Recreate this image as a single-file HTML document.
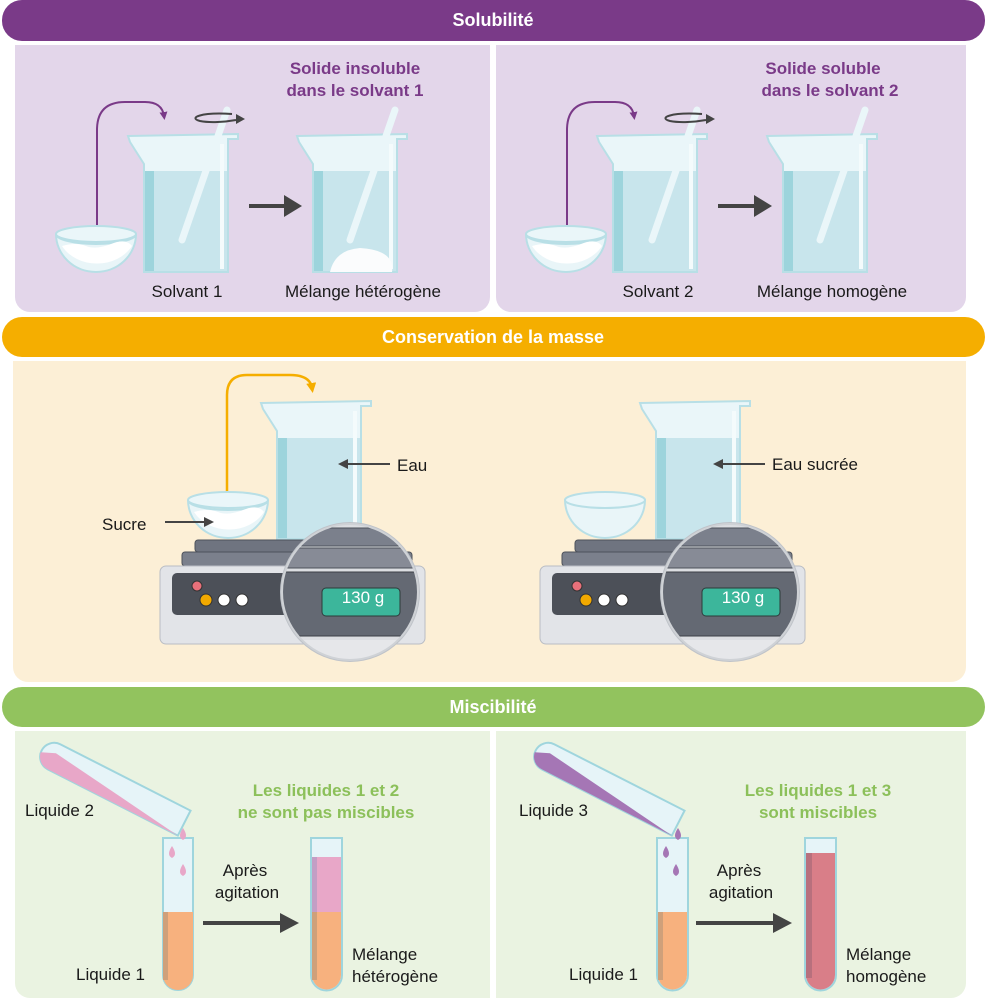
<!DOCTYPE html>
<html><head><meta charset="utf-8"><style>
html,body{margin:0;padding:0;background:#fff}
svg{display:block}
text{font-family:"Liberation Sans",sans-serif}
.t{font-size:17px;fill:#1a1a1a}
.h{font-size:18px;font-weight:bold;fill:#fff}
.b{font-size:17px;font-weight:bold}
</style></head><body>
<svg width="987" height="1000" viewBox="0 0 987 1000" xmlns="http://www.w3.org/2000/svg">
<defs>
<g id="beaker">
  <path d="M0,2 L110,0 L110,5 L100,5 L100,138 L16,138 L16,30 L2,8 Z" fill="#eaf6f9" stroke="#b8dfe6" stroke-width="2"/>
  <rect x="17" y="37" width="82" height="100" fill="#c8e5ec"/>
  <rect x="17" y="37" width="9" height="100" fill="#9dd4dc"/>
  <rect x="92" y="10" width="4" height="125" fill="#f4fbfc"/>
</g>
<g id="bowl">
  <path d="M0,0 A40,10 0 0 0 80,0 A40,38 0 0 1 0,0 Z" fill="#e9f5f8" stroke="#b8dfe6" stroke-width="2"/>
  <path d="M6,12 Q20,8 30,12 T55,10 T76,12 A40,34 0 0 1 6,12 Z" fill="#fff"/>
  <ellipse cx="40" cy="0" rx="40" ry="8" fill="#eaf6f9" stroke="#b8dfe6" stroke-width="2"/>
</g>
<g id="bowlE">
  <path d="M0,0 A40,38 0 0 0 80,0 Z" fill="#e9f5f8" stroke="#b8dfe6" stroke-width="2"/>
  <ellipse cx="40" cy="0" rx="40" ry="8" fill="#eaf6f9" stroke="#b8dfe6" stroke-width="2"/>
</g>
<g id="scale">
  <rect x="35" y="0" width="195" height="12" rx="3" fill="#6f7480" stroke="#4d525b"/>
  <rect x="22" y="12" width="230" height="14" rx="3" fill="#7b808c" stroke="#4d525b"/>
  <rect x="0" y="26" width="265" height="78" rx="6" fill="#e2e4e8" stroke="#b9bdc4"/>
  <rect x="12" y="33" width="240" height="42" rx="5" fill="#4c5058"/>
  <circle cx="37" cy="46" r="5" fill="#e8707a" stroke="#333"/>
  <circle cx="46" cy="60" r="6" fill="#f2a900" stroke="#333"/>
  <circle cx="64" cy="60" r="6" fill="#fff" stroke="#333"/>
  <circle cx="82" cy="60" r="6" fill="#fff" stroke="#333"/>
  <circle cx="190" cy="52" r="70" fill="#bfc3c9"/>
  <clipPath id="mag"><circle cx="190" cy="52" r="68"/></clipPath>
  <g clip-path="url(#mag)">
    <rect x="100" y="-20" width="200" height="160" fill="#dcdee2"/>
    <rect x="100" y="-12" width="200" height="18" rx="3" fill="#7b808c" stroke="#4d525b"/>
    <rect x="100" y="8" width="200" height="20" rx="3" fill="#878b96" stroke="#4d525b"/>
    <rect x="100" y="32" width="160" height="64" rx="6" fill="#646973" stroke="#3c4047"/>
    <rect x="100" y="100" width="200" height="30" fill="#e6e7ea"/>
  </g>
  <circle cx="190" cy="52" r="68" fill="none" stroke="#cfd2d6" stroke-width="2"/>
  <rect x="162" y="48" width="78" height="28" rx="4" fill="#3cb69b" stroke="#2d3a3a"/>
</g>
<marker id="ap" markerWidth="8" markerHeight="8" refX="4" refY="4" orient="auto" markerUnits="userSpaceOnUse"><path d="M0,0 L8,4 L0,8Z" fill="#7a3a88"/></marker>
<marker id="ao" markerWidth="10" markerHeight="10" refX="5" refY="5" orient="auto" markerUnits="userSpaceOnUse"><path d="M0,0 L10,5 L0,10Z" fill="#f5ae00"/></marker>
</defs>

<!-- Solubilité -->
<rect x="2" y="0" width="983" height="41" rx="20" fill="#7a3a88"/>
<text x="493" y="26" text-anchor="middle" class="h">Solubilité</text>
<path d="M15,45 H490 V297 a15,15 0 0 1 -15,15 H30 a15,15 0 0 1 -15,-15Z" fill="#e3d6ea"/>
<path d="M496,45 H966 V297 a15,15 0 0 1 -15,15 H511 a15,15 0 0 1 -15,-15Z" fill="#e3d6ea"/>

<g>
<text x="355" y="74" text-anchor="middle" class="b" fill="#7a3a88">Solide insoluble</text>
<text x="355" y="96" text-anchor="middle" class="b" fill="#7a3a88">dans le solvant 1</text>
<path d="M97,226 V130 Q97,102 125,102 H145 Q162,102 164,116" fill="none" stroke="#7a3a88" stroke-width="2" marker-end="url(#ap)"/>
<use href="#bowl" x="56" y="234"/>
<use href="#beaker" x="128" y="134"/>
<line x1="182" y1="240" x2="227" y2="110" stroke="#eaf6f9" stroke-width="7" stroke-linecap="round"/>
<path d="M232,114 C200,112 188,118 200,121 C210,123 225,122 236,120" fill="none" stroke="#444" stroke-width="2"/>
<path d="M236,114 l9,5 -9,5z" fill="#444"/>
<use href="#beaker" x="297" y="134"/>
<path d="M330,272 Q335,250 360,248 Q395,250 392,272Z" fill="#fbfcfd"/>
<line x1="350" y1="240" x2="395" y2="110" stroke="#eaf6f9" stroke-width="7" stroke-linecap="round"/>
<line x1="249" y1="206" x2="287" y2="206" stroke="#444" stroke-width="4"/>
<path d="M284,195 L302,206 L284,217Z" fill="#444"/>
<text x="187" y="297" text-anchor="middle" class="t">Solvant 1</text>
<text x="363" y="297" text-anchor="middle" class="t">Mélange hétérogène</text>
</g>

<g>
<text x="823" y="74" text-anchor="middle" class="b" fill="#7a3a88">Solide soluble</text>
<text x="830" y="96" text-anchor="middle" class="b" fill="#7a3a88">dans le solvant 2</text>
<path d="M567,226 V130 Q567,102 595,102 H615 Q632,102 634,116" fill="none" stroke="#7a3a88" stroke-width="2" marker-end="url(#ap)"/>
<use href="#bowl" x="526" y="234"/>
<use href="#beaker" x="597" y="134"/>
<line x1="652" y1="240" x2="697" y2="110" stroke="#eaf6f9" stroke-width="7" stroke-linecap="round"/>
<path d="M702,114 C670,112 658,118 670,121 C680,123 695,122 706,120" fill="none" stroke="#444" stroke-width="2"/>
<path d="M706,114 l9,5 -9,5z" fill="#444"/>
<use href="#beaker" x="767" y="134"/>
<line x1="820" y1="240" x2="865" y2="110" stroke="#eaf6f9" stroke-width="7" stroke-linecap="round"/>
<line x1="718" y1="206" x2="756" y2="206" stroke="#444" stroke-width="4"/>
<path d="M754,195 L772,206 L754,217Z" fill="#444"/>
<text x="658" y="297" text-anchor="middle" class="t">Solvant 2</text>
<text x="832" y="297" text-anchor="middle" class="t">Mélange homogène</text>
</g>

<!-- Conservation -->
<rect x="2" y="317" width="983" height="40" rx="20" fill="#f5ae00"/>
<text x="493" y="343" text-anchor="middle" class="h">Conservation de la masse</text>
<path d="M13,361 H966 V667 a15,15 0 0 1 -15,15 H28 a15,15 0 0 1 -15,-15Z" fill="#fcefd6"/>

<path d="M227,497 V395 Q227,375 247,375 H290 Q310,375 312,388" fill="none" stroke="#f5ae00" stroke-width="2.5" marker-end="url(#ao)"/>
<use href="#beaker" x="261" y="401"/>
<use href="#bowl" x="188" y="500"/>
<use href="#scale" x="160" y="540"/>
<text x="363" y="603" text-anchor="middle" font-size="17" fill="#fff">130 g</text>
<line x1="390" y1="464" x2="347" y2="464" stroke="#444" stroke-width="2"/><path d="M338,464 l10,-5 v10z" fill="#444"/>
<text x="397" y="471" class="t">Eau</text>
<text x="102" y="530" class="t">Sucre</text>
<line x1="165" y1="522" x2="205" y2="522" stroke="#444" stroke-width="2"/><path d="M214,522 l-10,-5 v10z" fill="#444"/>

<use href="#beaker" x="640" y="401"/>
<use href="#bowlE" x="565" y="500"/>
<use href="#scale" x="540" y="540"/>
<text x="743" y="603" text-anchor="middle" font-size="17" fill="#fff">130 g</text>
<line x1="765" y1="464" x2="722" y2="464" stroke="#444" stroke-width="2"/><path d="M713,464 l10,-5 v10z" fill="#444"/>
<text x="772" y="470" class="t">Eau sucrée</text>

<!-- Miscibilité -->
<rect x="2" y="687" width="983" height="40" rx="20" fill="#92c35e"/>
<text x="493" y="713" text-anchor="middle" class="h">Miscibilité</text>
<path d="M15,731 H490 V998 H30 a15,15 0 0 1 -15,-15Z" fill="#eaf3e1"/>
<path d="M496,731 H966 V983 a15,15 0 0 1 -15,15 H496Z" fill="#eaf3e1"/>

<g>
<g transform="translate(48,738) rotate(27)">
  <path d="M14,0 H160 V28 H14 A14,14 0 0 1 14,0Z" fill="#e6f4f8" stroke="#9fd5dd" stroke-width="2"/>
  <path d="M14,10 L160,28 H14 A14,14 0 0 1 0,16Z" fill="#e8a7c8"/>
</g>
<path d="M163,838 H193 V975 A15,15 0 0 1 163,975Z" fill="#e6f4f8" stroke="#9fd5dd" stroke-width="2"/>
<path d="M163,912 H193 V975 A15,15 0 0 1 163,975Z" fill="#f7b17e"/>
<rect x="163" y="912" width="5" height="68" fill="#cfa07a"/>
<path d="M183,828 q-6,9 0,12 q6,-3 0,-12z" fill="#e8a7c8"/>
<path d="M172,846 q-6,9 0,12 q6,-3 0,-12z" fill="#e8a7c8"/>
<path d="M183,864 q-6,9 0,12 q6,-3 0,-12z" fill="#e8a7c8"/>
<path d="M311,838 H342 V975 A15.5,15.5 0 0 1 311,975Z" fill="#e6f4f8" stroke="#9fd5dd" stroke-width="2"/>
<rect x="312" y="857" width="29" height="55" fill="#e8a7c8"/>
<rect x="312" y="857" width="5" height="55" fill="#c39ec5"/>
<path d="M312,912 H341 V975 A14.5,14.5 0 0 1 312,975Z" fill="#f7b17e"/>
<rect x="312" y="912" width="5" height="68" fill="#cfa07a"/>
<line x1="203" y1="923" x2="282" y2="923" stroke="#444" stroke-width="4"/>
<path d="M280,913 L299,923 L280,933Z" fill="#444"/>
<text x="245" y="876" text-anchor="middle" class="t">Après</text>
<text x="247" y="898" text-anchor="middle" class="t">agitation</text>
<text x="25" y="816" class="t">Liquide 2</text>
<text x="76" y="980" class="t">Liquide 1</text>
<text x="352" y="960" class="t">Mélange</text>
<text x="352" y="982" class="t">hétérogène</text>
<text x="326" y="796" text-anchor="middle" class="b" fill="#8cc05a">Les liquides 1 et 2</text>
<text x="326" y="818" text-anchor="middle" class="b" fill="#8cc05a">ne sont pas miscibles</text>
</g>

<g>
<g transform="translate(542,738) rotate(27)">
  <path d="M14,0 H160 V28 H14 A14,14 0 0 1 14,0Z" fill="#e6f4f8" stroke="#9fd5dd" stroke-width="2"/>
  <path d="M14,10 L160,28 H14 A14,14 0 0 1 0,16Z" fill="#a576b5"/>
</g>
<path d="M657,838 H688 V975 A15.5,15.5 0 0 1 657,975Z" fill="#e6f4f8" stroke="#9fd5dd" stroke-width="2"/>
<path d="M658,912 H687 V975 A14.5,14.5 0 0 1 658,975Z" fill="#f7b17e"/>
<rect x="658" y="912" width="5" height="68" fill="#cfa07a"/>
<path d="M678,828 q-6,9 0,12 q6,-3 0,-12z" fill="#a576b5"/>
<path d="M666,846 q-6,9 0,12 q6,-3 0,-12z" fill="#a576b5"/>
<path d="M676,864 q-6,9 0,12 q6,-3 0,-12z" fill="#a576b5"/>
<path d="M805,838 H836 V975 A15.5,15.5 0 0 1 805,975Z" fill="#e6f4f8" stroke="#9fd5dd" stroke-width="2"/>
<path d="M806,853 H835 V975 A14.5,14.5 0 0 1 806,975Z" fill="#d97e88"/>
<rect x="806" y="853" width="6" height="125" fill="#b8707d"/>
<line x1="696" y1="923" x2="775" y2="923" stroke="#444" stroke-width="4"/>
<path d="M773,913 L792,923 L773,933Z" fill="#444"/>
<text x="739" y="876" text-anchor="middle" class="t">Après</text>
<text x="741" y="898" text-anchor="middle" class="t">agitation</text>
<text x="519" y="816" class="t">Liquide 3</text>
<text x="569" y="980" class="t">Liquide 1</text>
<text x="846" y="960" class="t">Mélange</text>
<text x="846" y="982" class="t">homogène</text>
<text x="818" y="796" text-anchor="middle" class="b" fill="#8cc05a">Les liquides 1 et 3</text>
<text x="818" y="818" text-anchor="middle" class="b" fill="#8cc05a">sont miscibles</text>
</g>
</svg>
</body></html>
